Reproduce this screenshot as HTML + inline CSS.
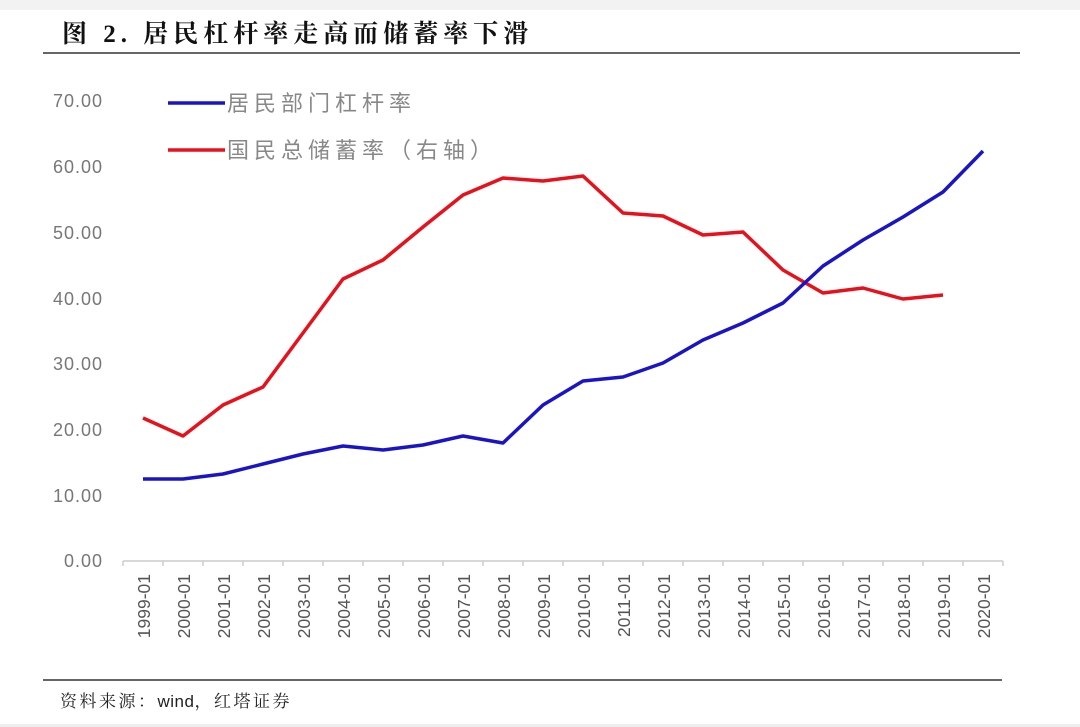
<!DOCTYPE html>
<html><head><meta charset="utf-8"><style>
body{margin:0;background:#fff;}
svg{display:block;}
</style></head><body>
<svg width="1080" height="727" xmlns="http://www.w3.org/2000/svg" font-family="Liberation Sans, Noto Sans CJK SC, sans-serif">
<rect x="0" y="0" width="1080" height="10" fill="#f2f2f2"/>
<rect x="0" y="724" width="1080" height="3" fill="#eee"/>
<text x="62" y="42" font-size="25" font-weight="bold" fill="#111" letter-spacing="5" font-family="Liberation Serif, Noto Serif CJK SC, serif">图 2. 居民杠杆率走高而储蓄率下滑</text>
<line x1="43" y1="53" x2="1020" y2="53" stroke="#666" stroke-width="2"/>
<line x1="43" y1="680" x2="1002" y2="680" stroke="#666" stroke-width="2"/>
<text x="60" y="707" font-size="17" fill="#222" letter-spacing="2.5" font-family="Liberation Serif, Noto Serif CJK SC, serif">资料来源：<tspan font-family="Liberation Sans, sans-serif" letter-spacing="0.5">wind</tspan>，红塔证券</text>
<g font-size="18" fill="#777" text-anchor="end" letter-spacing="1">
<text x="103" y="107">70.00</text>
<text x="103" y="173">60.00</text>
<text x="103" y="239">50.00</text>
<text x="103" y="305">40.00</text>
<text x="103" y="370">30.00</text>
<text x="103" y="436">20.00</text>
<text x="103" y="502">10.00</text>
<text x="103" y="567">0.00</text>
</g>
<line x1="123" y1="561" x2="1003" y2="561" stroke="#ccc" stroke-width="1.5"/>
<g stroke="#ccc" stroke-width="1.5">
<line x1="123" y1="561" x2="123" y2="566"/><line x1="163" y1="561" x2="163" y2="566"/><line x1="203" y1="561" x2="203" y2="566"/><line x1="243" y1="561" x2="243" y2="566"/><line x1="283" y1="561" x2="283" y2="566"/><line x1="323" y1="561" x2="323" y2="566"/><line x1="363" y1="561" x2="363" y2="566"/><line x1="403" y1="561" x2="403" y2="566"/><line x1="443" y1="561" x2="443" y2="566"/><line x1="483" y1="561" x2="483" y2="566"/><line x1="523" y1="561" x2="523" y2="566"/><line x1="563" y1="561" x2="563" y2="566"/><line x1="603" y1="561" x2="603" y2="566"/><line x1="643" y1="561" x2="643" y2="566"/><line x1="683" y1="561" x2="683" y2="566"/><line x1="723" y1="561" x2="723" y2="566"/><line x1="763" y1="561" x2="763" y2="566"/><line x1="803" y1="561" x2="803" y2="566"/><line x1="843" y1="561" x2="843" y2="566"/><line x1="883" y1="561" x2="883" y2="566"/><line x1="923" y1="561" x2="923" y2="566"/><line x1="963" y1="561" x2="963" y2="566"/><line x1="1003" y1="561" x2="1003" y2="566"/>
</g>
<g font-size="17.5" fill="#555" text-anchor="end">
<text transform="translate(150,574) rotate(-90)">1999-01</text>
<text transform="translate(190,574) rotate(-90)">2000-01</text>
<text transform="translate(230,574) rotate(-90)">2001-01</text>
<text transform="translate(270,574) rotate(-90)">2002-01</text>
<text transform="translate(310,574) rotate(-90)">2003-01</text>
<text transform="translate(350,574) rotate(-90)">2004-01</text>
<text transform="translate(390,574) rotate(-90)">2005-01</text>
<text transform="translate(430,574) rotate(-90)">2006-01</text>
<text transform="translate(470,574) rotate(-90)">2007-01</text>
<text transform="translate(510,574) rotate(-90)">2008-01</text>
<text transform="translate(550,574) rotate(-90)">2009-01</text>
<text transform="translate(590,574) rotate(-90)">2010-01</text>
<text transform="translate(630,574) rotate(-90)">2011-01</text>
<text transform="translate(670,574) rotate(-90)">2012-01</text>
<text transform="translate(710,574) rotate(-90)">2013-01</text>
<text transform="translate(750,574) rotate(-90)">2014-01</text>
<text transform="translate(790,574) rotate(-90)">2015-01</text>
<text transform="translate(830,574) rotate(-90)">2016-01</text>
<text transform="translate(870,574) rotate(-90)">2017-01</text>
<text transform="translate(910,574) rotate(-90)">2018-01</text>
<text transform="translate(950,574) rotate(-90)">2019-01</text>
<text transform="translate(990,574) rotate(-90)">2020-01</text>
</g>
<polyline fill="none" stroke="#e8101a" stroke-width="3.5" stroke-linejoin="round" points="143,418 183,436 223,405 263,387 303,333 343,279 383,260 423,227 463,195 503,178 543,181 583,176 623,213 663,216 703,235 743,232 783,270 823,293 863,288 903,299 943,295"/>
<polyline fill="none" stroke="#1a14c8" stroke-width="3.5" stroke-linejoin="round" points="143,479 183,479 223,474 263,464 303,454 343,446 383,450 423,445 463,436 503,443 543,405 583,381 623,377 663,363 703,340 743,323 783,303 823,266 863,240 903,217 943,192 983,151"/>
<line x1="168" y1="103" x2="225" y2="103" stroke="#1a14c8" stroke-width="3.5"/>
<line x1="168" y1="150" x2="225" y2="150" stroke="#e8101a" stroke-width="3.5"/>
<g font-size="22" fill="#888" letter-spacing="5">
<text x="227" y="111">居民部门杠杆率</text>
<text x="227" y="158">国民总储蓄率（右轴）</text>
</g>
</svg>
</body></html>
